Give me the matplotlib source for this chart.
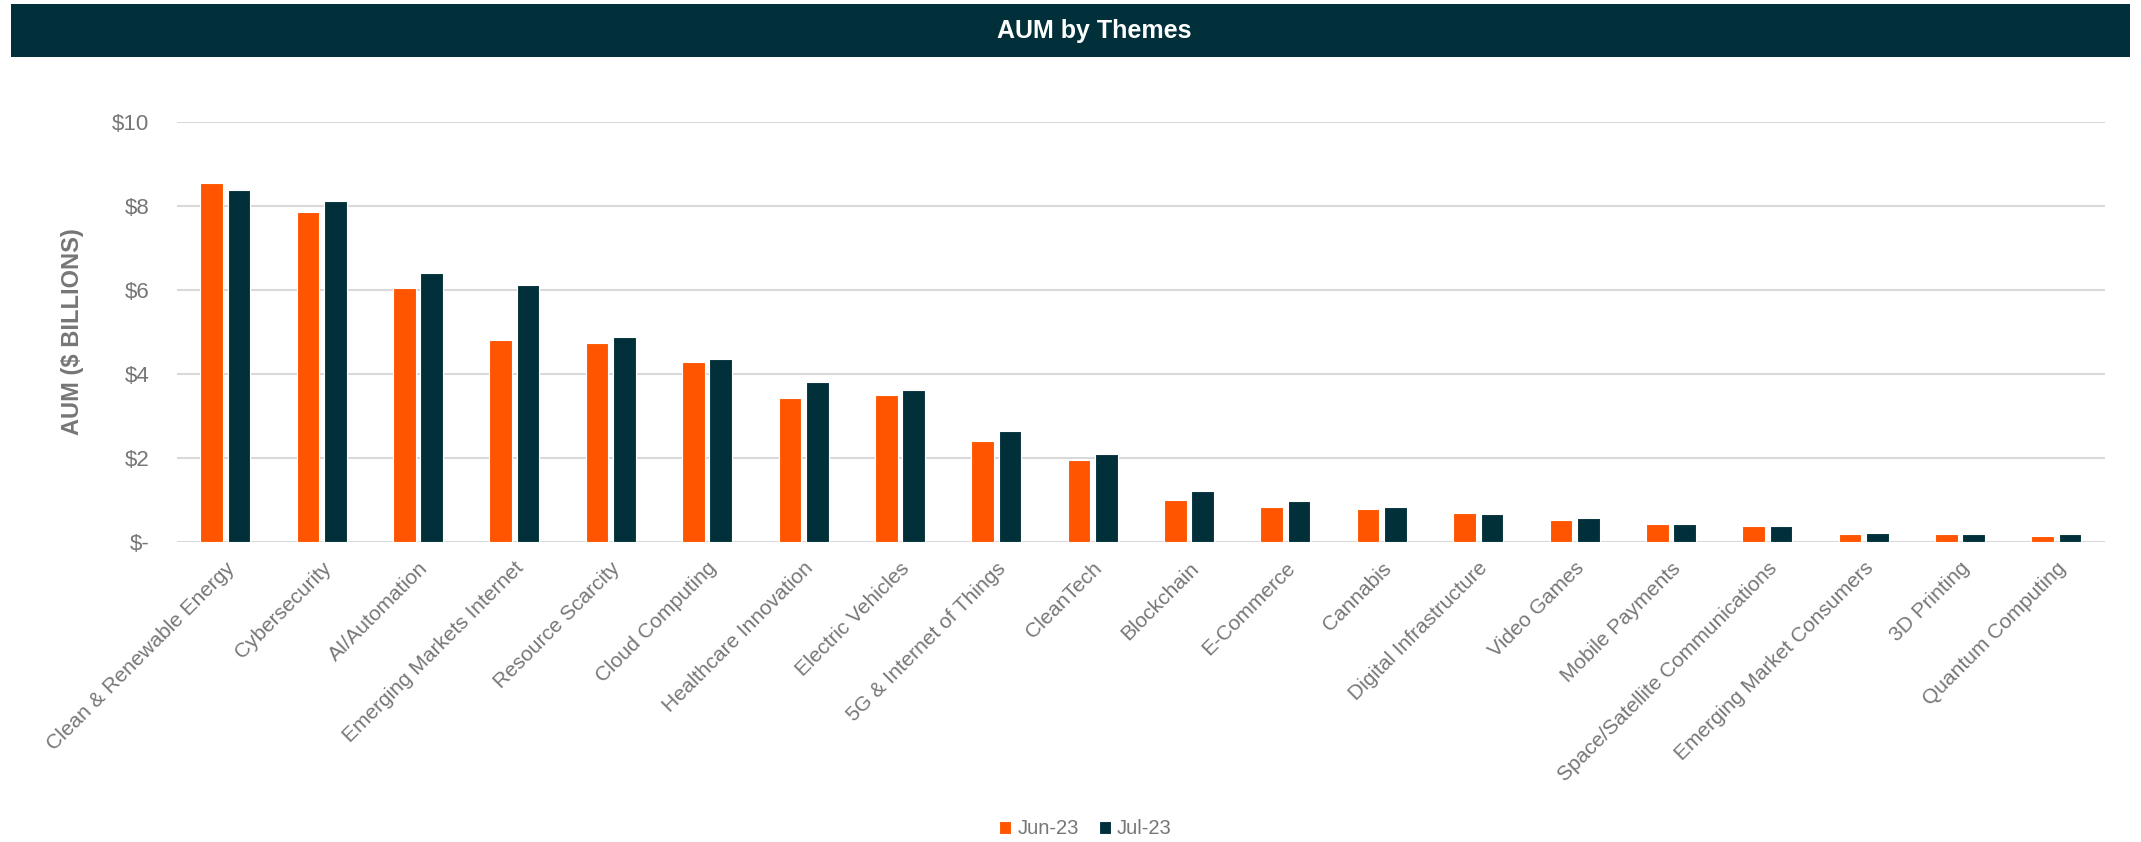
import numpy as np
import matplotlib
matplotlib.use("Agg")
import matplotlib.pyplot as plt
from matplotlib.patches import Rectangle
from matplotlib.ticker import FuncFormatter

plt.rcParams['font.family'] = ['Liberation Sans', 'DejaVu Sans']

# AUM per theme, $ billions
themes = [
    "Clean & Renewable Energy", "Cybersecurity", "AI/Automation",
    "Emerging Markets Internet", "Resource Scarcity", "Cloud Computing",
    "Healthcare Innovation", "Electric Vehicles", "5G & Internet of Things",
    "CleanTech", "Blockchain", "E-Commerce", "Cannabis",
    "Digital Infrastructure", "Video Games", "Mobile Payments",
    "Space/Satellite Communications", "Emerging Market Consumers",
    "3D Printing", "Quantum Computing",
]
jun_23 = [8.53, 7.85, 6.05, 4.80, 4.73, 4.29, 3.42, 3.50, 2.40, 1.95,
          1.01, 0.84, 0.78, 0.70, 0.53, 0.43, 0.37, 0.18, 0.18, 0.15]
jul_23 = [8.37, 8.12, 6.40, 6.12, 4.87, 4.35, 3.80, 3.61, 2.64, 2.09,
          1.22, 0.97, 0.84, 0.66, 0.57, 0.43, 0.37, 0.22, 0.18, 0.18]
series_names = ["Jun-23", "Jul-23"]

ORANGE = "#FF5500"
DARK = "#01303A"
GRAY = "#767676"

fig = plt.figure(figsize=(21.41, 8.42), dpi=100)
ax = fig.add_axes([0.0827, 0.3563, 0.9003, 0.4994])

# title banner
fig.patches.append(Rectangle((0.005, 0.932), 0.990, 0.063, transform=fig.transFigure,
                             facecolor=DARK, edgecolor="none", zorder=0))
fig.text(0.511, 0.9635, "AUM by Themes", color="white", fontsize=18, fontweight="bold",
         ha="center", va="center")

x = np.arange(len(themes))
w = 0.235
ax.bar(x - 0.142, jun_23, width=w, color=ORANGE, edgecolor="white", linewidth=0.8,
       label=series_names[0], zorder=3)
ax.bar(x + 0.142, jul_23, width=w, color=DARK, edgecolor="white", linewidth=0.8,
       label=series_names[1], zorder=3)

ax.set_xlim(-0.5, len(themes) - 0.5)
ax.set_ylim(0, 10)
ax.set_yticks(np.arange(0, 11, 2))
ax.yaxis.set_major_formatter(FuncFormatter(lambda v, p: "$-" if v == 0 else f"${v:.0f}"))
ax.grid(axis="y", color="#D9D9D9", linewidth=1.5, zorder=0)
for s in ax.spines.values():
    s.set_visible(False)
ax.tick_params(axis="both", length=0, labelsize=15, labelcolor=GRAY)
ax.tick_params(axis="y", labelsize=16, pad=20)
ax.set_xticks(x)
ax.set_xticklabels(themes, rotation=45, ha="right", rotation_mode="anchor")
ax.tick_params(axis="x", pad=12)

ax.set_ylabel("AUM ($ BILLIONS)", fontsize=17, fontweight="bold", color=GRAY, labelpad=20)

ax.legend(loc="center", bbox_to_anchor=(0.507, 0.0155), bbox_transform=fig.transFigure,
          ncol=2, frameon=False, fontsize=14.5, labelcolor=GRAY, handlelength=0.6,
          handleheight=0.6, handletextpad=0.3, columnspacing=1.0)

fig.savefig("out.png", dpi=100)
